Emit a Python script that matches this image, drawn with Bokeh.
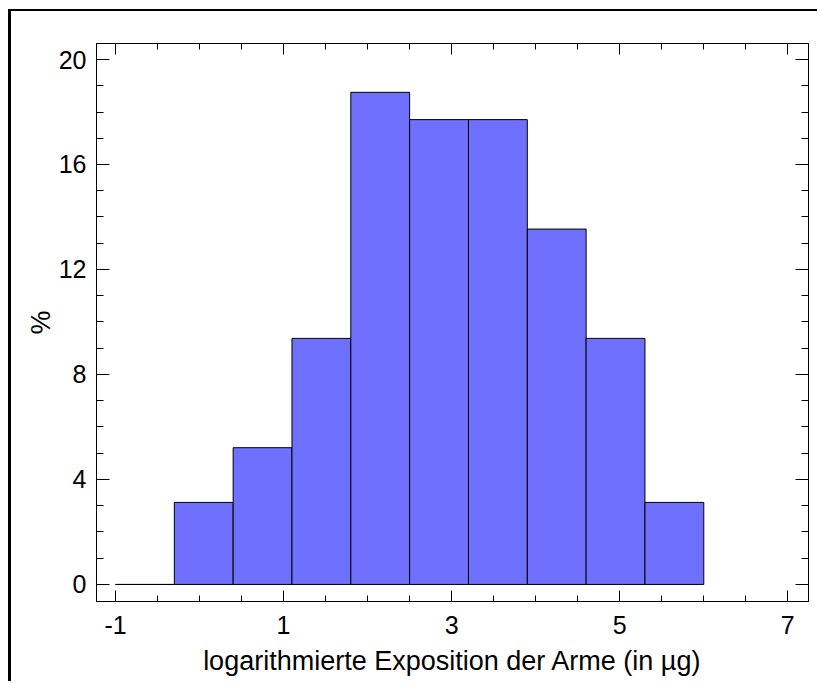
from bokeh.plotting import figure
from bokeh.models import (Range1d, FixedTicker, LinearAxis, ColumnDataSource,
                          CustomLabelingPolicy)
from bokeh.embed import file_html
from bokeh.resources import INLINE

# Histogram data
bin_edges = [-1.0, -0.3, 0.4, 1.1, 1.8, 2.5, 3.2, 3.9, 4.6, 5.3, 6.0]
percent = [0.0, 3.125, 5.21, 9.375, 18.75, 17.71, 17.71, 13.54, 9.375, 3.125]

x_major_ticks = [-1, 1, 3, 5, 7]
x_tick_labels = ["-1", "1", "3", "5", "7"]
x_minor_ticks = [-1, -0.5, 0, 0.5, 1, 1.5, 2, 2.5, 3, 3.5, 4, 4.5, 5, 5.5, 6, 6.5, 7]
y_major_ticks = [0, 4, 8, 12, 16, 20]
y_minor_ticks = [0, 1, 2, 3, 4, 5, 6, 7, 8, 9, 10, 11, 12, 13, 14, 15, 16, 17, 18, 19, 20]

x_label = "logarithmierte Exposition der Arme (in µg)"
y_label = "%"

FONT = "Liberation Sans"

src = ColumnDataSource(dict(
    left=bin_edges[:-1],
    right=bin_edges[1:],
    top=percent,
    bottom=[0.0] * len(percent),
))

p = figure(
    width=809, height=672,
    x_range=Range1d(-1.226, 7.246),
    y_range=Range1d(-0.65, 20.61),
    output_backend="svg",
    toolbar_location=None,
    min_border_left=85, min_border_right=12,
    min_border_top=32, min_border_bottom=82,
    x_axis_label=x_label, y_axis_label=y_label,
)
p.styles = {
    "margin-left": "8px",
    "margin-top": "9px",
    "border-left": "3px solid black",
    "border-top": "2px solid black",
}

p.quad(left="left", right="right", top="top", bottom="bottom", source=src,
       fill_color="#7070FF", line_color="black", line_width=1)

p.xgrid.visible = False
p.ygrid.visible = False
p.outline_line_color = "black"
p.outline_line_width = 1
p.background_fill_color = "white"
p.border_fill_color = "white"

bottom_axis = p.below[0]
left_axis = p.left[0]

top_axis = LinearAxis()
right_axis = LinearAxis()
p.add_layout(top_axis, "above")
p.add_layout(right_axis, "right")

for ax in [bottom_axis, top_axis]:
    ax.ticker = FixedTicker(ticks=x_major_ticks, minor_ticks=x_minor_ticks)
    ax.major_tick_in = 11
    ax.minor_tick_in = 6
for ax in [left_axis, right_axis]:
    ax.ticker = FixedTicker(ticks=y_major_ticks, minor_ticks=y_minor_ticks)
    ax.major_tick_in = 13
    ax.minor_tick_in = 7

for ax in [bottom_axis, left_axis, top_axis, right_axis]:
    ax.major_tick_out = 0
    ax.minor_tick_out = 0
    ax.axis_line_color = "black"
    ax.major_tick_line_color = "black"
    ax.minor_tick_line_color = "black"
    ax.major_label_text_font = FONT
    ax.major_label_text_font_size = "25px"
    ax.major_label_text_color = "black"
    ax.axis_label_text_font = FONT
    ax.axis_label_text_font_size = "27px"
    ax.axis_label_text_font_style = "normal"
    ax.axis_label_text_color = "black"

bottom_axis.major_label_overrides = dict(zip(x_major_ticks, x_tick_labels))

# mirrored axes: ticks only, no labels drawn
for ax in [top_axis, right_axis]:
    ax.major_label_policy = CustomLabelingPolicy(code="return []")
    ax.major_label_text_font_size = "2px"
    ax.major_label_standoff = 0

bottom_axis.major_label_standoff = 14
bottom_axis.axis_label_standoff = 9
left_axis.major_label_standoff = 10
left_axis.axis_label_standoff = 0

open("out.html", "w").write(file_html(p, INLINE))
